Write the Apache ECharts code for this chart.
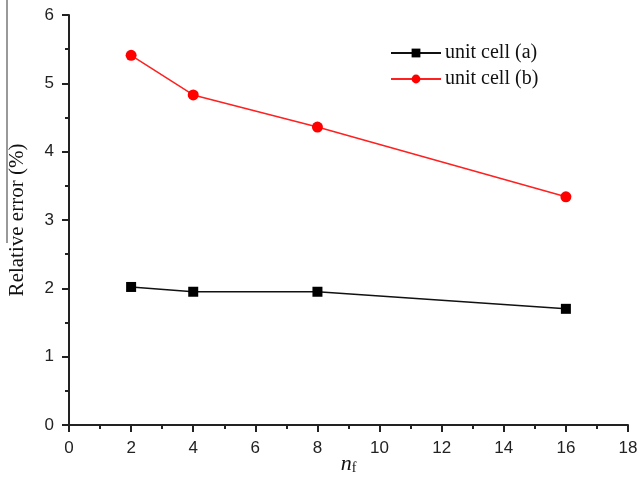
<!DOCTYPE html>
<html>
<head>
<meta charset="utf-8">
<script src="https://cdn.jsdelivr.net/npm/echarts@6/dist/echarts.min.js"></script>
<style>html,body{margin:0;padding:0;background:#fff}#c{width:640px;height:485px}</style>
</head>
<body>
<div id="c"></div>
<script>
var xValues = [2, 4, 8, 16];
var seriesA = [2.02, 1.95, 1.95, 1.70];
var seriesB = [5.41, 4.83, 4.36, 3.34];
var seriesNames = ['unit cell (a)', 'unit cell (b)'];
var xTicks = [0, 2, 4, 6, 8, 10, 12, 14, 16, 18];
var yTicks = [0, 1, 2, 3, 4, 5, 6];

function pairs(xs, ys) { return xs.map(function (x, i) { return [x, ys[i]]; }); }

var chart = echarts.init(document.getElementById('c'), null, { renderer: 'canvas' });
var axisCommon = {
  axisLine: { show: true, onZero: false, lineStyle: { color: '#222', width: 2 } },
  axisTick: { show: true, inside: false, length: 7, lineStyle: { color: '#222', width: 2 } },
  minorTick: { show: true, splitNumber: 2, length: 4, lineStyle: { color: '#222', width: 2 } },
  splitLine: { show: false },
  axisLabel: { color: '#222', fontFamily: 'Liberation Sans, Arial', fontSize: 17 }
};
chart.setOption({
  animation: false,
  backgroundColor: '#fff',
  grid: { left: 69, right: 12, top: 15, bottom: 60, containLabel: false, outerBoundsMode: 'none' },
  legend: {
    top: 43, left: 390, padding: 0, orient: 'vertical', itemGap: 6, itemWidth: 50, itemHeight: 11,
    textStyle: { fontFamily: 'Liberation Serif, Times New Roman', fontSize: 20, color: '#111', padding: [0, 0, 0, -1] },
    data: [seriesNames[0], seriesNames[1]]
  },
  xAxis: Object.assign({}, axisCommon, {
    type: 'value', min: xTicks[0], max: xTicks[xTicks.length - 1], interval: 2,
    axisLabel: Object.assign({}, axisCommon.axisLabel, { margin: 15 }),
    name: '{n|n}{f|f}', nameLocation: 'middle', nameGap: 28, nameMoveOverlap: false,
    nameTextStyle: {
      rich: {
        n: { fontFamily: 'Liberation Serif, Times New Roman', fontStyle: 'italic', fontSize: 22, color: '#111' },
        f: { fontFamily: 'Liberation Serif, Times New Roman', fontSize: 14, color: '#111', verticalAlign: 'bottom', padding: [8, 0, 0, 0] }
      }
    }
  }),
  yAxis: Object.assign({}, axisCommon, {
    type: 'value', min: yTicks[0], max: yTicks[yTicks.length - 1], interval: 1,
    axisLabel: Object.assign({}, axisCommon.axisLabel, { margin: 15 }),
    name: 'Relative error (%)', nameLocation: 'middle', nameGap: 41, nameRotate: 90, nameMoveOverlap: false,
    nameTextStyle: { fontFamily: 'Liberation Serif, Times New Roman', fontSize: 21, color: '#111' }
  }),
  graphic: [
    { type: 'line', shape: { x1: 7, y1: 0, x2: 7, y2: 243 }, style: { stroke: '#999', lineWidth: 2 } }
  ],
  series: [
    {
      name: seriesNames[0], type: 'line', data: pairs(xValues, seriesA),
      symbol: 'rect', symbolSize: 10,
      lineStyle: { color: '#111', width: 1.5 }, itemStyle: { color: '#000' }
    },
    {
      name: seriesNames[1], type: 'line', data: pairs(xValues, seriesB),
      symbol: 'circle', symbolSize: 11,
      lineStyle: { color: '#ff2020', width: 1.5 }, itemStyle: { color: '#ff0000' }
    }
  ]
});
</script>
</body>
</html>
